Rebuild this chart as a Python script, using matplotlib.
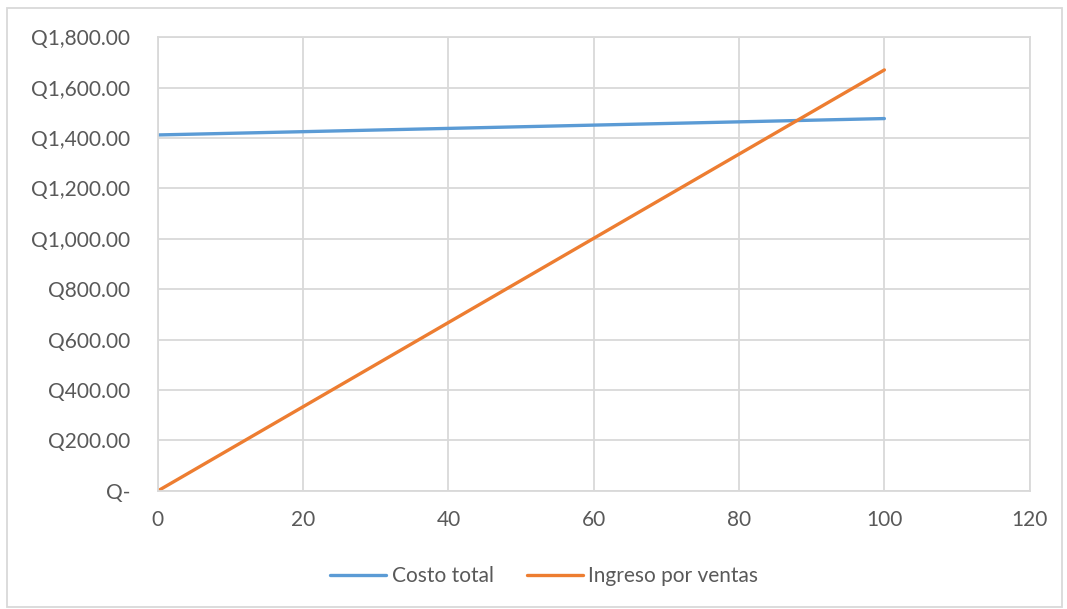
import matplotlib.pyplot as plt
from matplotlib.patches import Rectangle
from matplotlib.ticker import FuncFormatter

unidades = [0, 20, 40, 60, 80, 100]
costo_total = [1412, 1425, 1438, 1451, 1464, 1477]
ingreso_ventas = [0, 334, 668, 1002, 1336, 1670]

x_ticks = [0, 20, 40, 60, 80, 100, 120]
y_ticks = [0, 200, 400, 600, 800, 1000, 1200, 1400, 1600, 1800]

plt.rcParams['font.family'] = ['Lato', 'DejaVu Sans']
texto = '#595959'
rejilla = '#d9d9d9'

fig = plt.figure(figsize=(10.67, 6.09), dpi=100)
ax = fig.add_axes([0.148, 0.194, 0.817, 0.745])

ax.plot(unidades, costo_total, color='#5b9bd5', lw=2.4, label='Costo total',
        solid_capstyle='round')
ax.plot(unidades, ingreso_ventas, color='#ed7d31', lw=2.4, label='Ingreso por ventas',
        solid_capstyle='round')

def moneda(v, pos):
    if v == 0:
        return 'Q-'
    return 'Q{:,.2f}'.format(v)

ax.set_xlim(0, 120)
ax.set_ylim(0, 1800)
ax.set_xticks(x_ticks)
ax.set_yticks(y_ticks)
ax.yaxis.set_major_formatter(FuncFormatter(moneda))
ax.tick_params(length=0, labelsize=15, colors=texto, pad=14)
ax.tick_params(axis='y', pad=20)
ax.grid(True, color=rejilla, lw=1.3)
ax.set_axisbelow(True)
for s in ax.spines.values():
    s.set_color(rejilla)
    s.set_linewidth(1.3)

fig.legend(loc='center', bbox_to_anchor=(0.51, 0.054), ncol=2, frameon=False,
           fontsize=15, labelcolor=texto, handlelength=2.7, handletextpad=0.25,
           columnspacing=1.6)

# marco exterior del gráfico
fig.patches.append(Rectangle((0.007, 0.003), 0.988, 0.984, transform=fig.transFigure,
                             fill=False, edgecolor=rejilla, lw=1.3))

fig.savefig('out.png', dpi=100)
